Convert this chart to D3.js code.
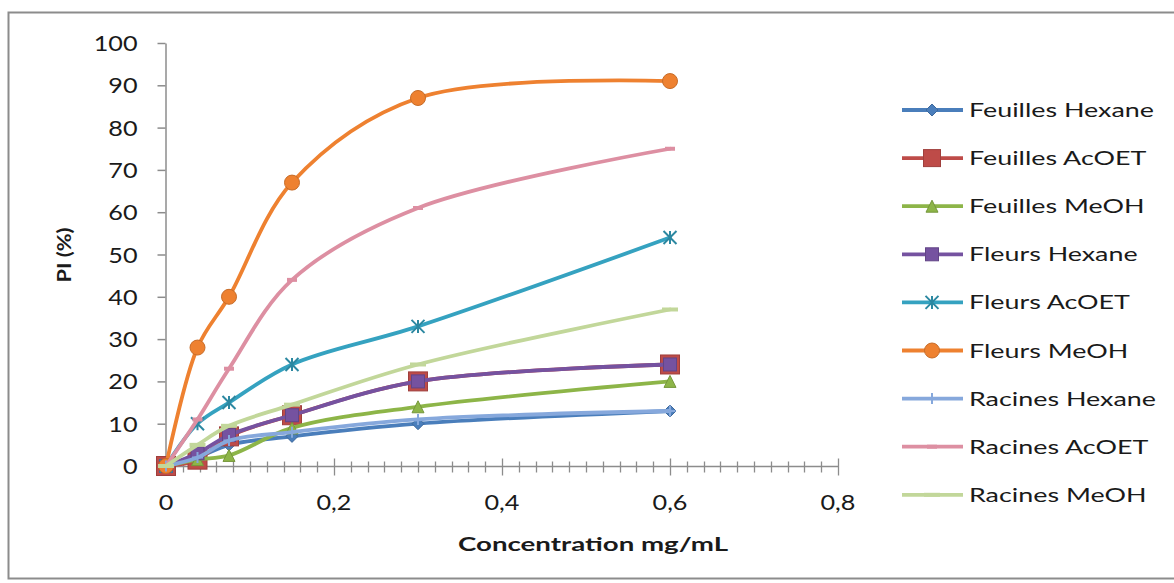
<!DOCTYPE html>
<html><head><meta charset="utf-8">
<script src="https://cdn.jsdelivr.net/npm/d3@7"></script>
<style>
html,body{margin:0;padding:0;background:#fff;}
svg{display:block;}
text{font-family:Lato,"Open Sans",sans-serif;fill:#1a1a1a;}
</style></head>
<body>
<svg id="chart" width="1174" height="583"></svg>
<script>
// ---- data ----
const concentrations = [0, 0.0375, 0.075, 0.15, 0.3, 0.6];
const seriesNames = ["Feuilles Hexane","Feuilles AcOET","Feuilles MeOH","Fleurs Hexane","Fleurs AcOET","Fleurs MeOH","Racines Hexane","Racines AcOET","Racines MeOH"];
const feuillesHexane = [0, 2, 5, 7, 10, 13];
const feuillesAcOET  = [0, 1.5, 7, 12, 20, 24];
const feuillesMeOH   = [0, 1.5, 2.5, 9, 14, 20];
const fleursHexane   = [0, 3, 7.3, 12, 20, 24];
const fleursAcOET    = [0, 10, 15, 24, 33, 54];
const fleursMeOH     = [0, 28, 40, 67, 87, 91];
const racinesHexane  = [0, 2, 6, 8, 11, 13];
const racinesAcOET   = [0, 11, 23, 44, 61, 75];
const racinesMeOH    = [0, 5, 9.5, 14.5, 24, 37];
const seriesValues = [feuillesHexane, feuillesAcOET, feuillesMeOH, fleursHexane, fleursAcOET, fleursMeOH, racinesHexane, racinesAcOET, racinesMeOH];
const xTicks = [0, 0.2, 0.4, 0.6, 0.8];
const yTicks = [0,10,20,30,40,50,60,70,80,90,100];
const xTitle = "Concentration mg/mL";
const yTitle = "PI (%)";

// ---- styles ----
const colors = ["#4a7ebb","#be4b48","#8db548","#7552a0","#35a2c0","#ee8130","#86a8dc","#dd8fa2","#c2d79a"];
const markers = ["diamond","square","triangle","square","asterisk","circle","plus","dash","longdash"];
const markerSize = {diamond:12, square:19, triangle:12, asterisk:13, circle:15, plus:11, dash:10, longdash:16};
const markerSizeOverride = {3:13};

const svg = d3.select("#chart");

// outer border
svg.append("rect").attr("x",8.5).attr("y",12.5).attr("width",1180).attr("height",566)
  .attr("fill","#fff").attr("stroke","#8c8c8c").attr("stroke-width",2);

const x = d3.scaleLinear().domain([0,0.8]).range([166,838]);
const y = d3.scaleLinear().domain([0,100]).range([466,43]);
const loc = d3.formatLocale({decimal:",",thousands:" ",grouping:[3],currency:["","€"]});
const fmt = v => v===0 ? "0" : loc.format("")(v);

function stretch(sel, sx){
  sel.each(function(){
    const t=d3.select(this);
    const xx=+t.attr("x")||0;
    t.attr("x", xx/sx).attr("transform", `scale(${sx},1)`);
  });
}

// y axis
const gy = svg.append("g").attr("transform","translate(165.5,0)")
  .call(d3.axisLeft(y).tickValues(yTicks).tickSize(8).tickPadding(20).tickSizeOuter(0));
gy.select(".domain").attr("stroke","#8c8c8c").attr("stroke-width",1.5);
gy.selectAll(".tick line").attr("stroke","#8c8c8c").attr("stroke-width",1.5);
gy.selectAll(".tick text").attr("font-size",21).attr("font-family","Lato").attr("fill","#1a1a1a").attr("dy","0.36em");
stretch(gy.selectAll(".tick text"), 1.2);

// x axis
const gx = svg.append("g").attr("transform","translate(0,466.5)");
gx.append("line").attr("x1",x(0)).attr("x2",x(0.8)).attr("stroke","#8c8c8c").attr("stroke-width",1.5);
const minor = d3.range(0, 0.8001, 0.02);
const isMajor = d => Math.abs(d/0.2-Math.round(d/0.2))<1e-6;
gx.selectAll("line.minor").data(minor).join("line").attr("class","minor")
  .attr("x1",d=>Math.round(x(d))+0.5).attr("x2",d=>Math.round(x(d))+0.5)
  .attr("y1",d=> isMajor(d)? -8 : -5)
  .attr("y2",d=> isMajor(d)? 9 : 6)
  .attr("stroke","#8c8c8c").attr("stroke-width",1.3);
gx.selectAll("text.xt").data(xTicks).join("text").attr("class","xt")
  .attr("x",d=>x(d)).attr("y",44).attr("text-anchor","middle")
  .attr("font-size",21).text(fmt);
stretch(gx.selectAll("text.xt"),1.2);

// titles
svg.append("text").attr("x",0).attr("y",0)
  .attr("transform","translate(71,255) rotate(-90)")
  .attr("text-anchor","middle").attr("font-weight","bold").attr("font-size",19)
  .attr("textLength",55).attr("lengthAdjust","spacingAndGlyphs").text(yTitle);
svg.append("text").attr("x",593).attr("y",551)
  .attr("text-anchor","middle").attr("font-weight","bold").attr("font-size",19)
  .attr("textLength",270).attr("lengthAdjust","spacingAndGlyphs").text(xTitle);

// marker drawing
function drawMarker(g, type, i, size){
  const c = colors[i];
  const dark = d3.color(c).darker(0.5).formatHex();
  const s = size;
  if(type==="diamond"){
    g.append("path").attr("d", `M0,${-s/2}L${s/2},0L0,${s/2}L${-s/2},0Z`).attr("fill",c).attr("stroke",dark).attr("stroke-width",1);
  } else if(type==="square"){
    g.append("rect").attr("x",-s/2).attr("y",-s/2).attr("width",s).attr("height",s).attr("fill",c).attr("stroke",dark).attr("stroke-width",1);
  } else if(type==="triangle"){
    g.append("path").attr("d", `M0,${-s/2}L${s/2},${s/2}L${-s/2},${s/2}Z`).attr("fill",c).attr("stroke",dark).attr("stroke-width",1);
  } else if(type==="circle"){
    g.append("circle").attr("r",s/2).attr("fill",c).attr("stroke",dark).attr("stroke-width",1);
  } else if(type==="asterisk"){
    const h=s/2;
    g.append("path").attr("d",`M${-h},${-h}L${h},${h}M${-h},${h}L${h},${-h}M0,${-h}L0,${h}`).attr("stroke",dark).attr("stroke-width",2).attr("fill","none");
  } else if(type==="plus"){
    const h=s/2;
    g.append("path").attr("d",`M${-h},0L${h},0M0,${-h}L0,${h}`).attr("stroke",c).attr("stroke-width",2).attr("fill","none");
  } else if(type==="dash" || type==="longdash"){
    const h=s/2;
    g.append("path").attr("d",`M${-h},0L${h},0`).attr("stroke",c).attr("stroke-width",4).attr("fill","none");
  }
}

// series (smoothed lines)
const line = d3.line().x(d=>x(d[0])).y(d=>y(d[1])).curve(d3.curveCatmullRom.alpha(0.5));
const plot = svg.append("g");
seriesValues.forEach((vals,i)=>{
  const pts = concentrations.map((c,k)=>[c, vals[k]]);
  const g = plot.append("g");
  g.append("path").attr("d", line(pts)).attr("fill","none").attr("stroke",colors[i])
    .attr("stroke-width",3.8).attr("stroke-linejoin","round").attr("stroke-linecap","round");
  const sz = markerSizeOverride[i] || markerSize[markers[i]];
  pts.forEach(p=>{
    const mg = g.append("g").attr("transform",`translate(${x(p[0])},${y(p[1])})`);
    drawMarker(mg, markers[i], i, sz);
  });
});

// legend
const legend = svg.append("g");
seriesNames.forEach((name,i)=>{
  const cy = 110 + i*48.1;
  const g = legend.append("g").attr("transform",`translate(0,${cy})`);
  g.append("line").attr("x1",902).attr("x2",963).attr("stroke",colors[i]).attr("stroke-width",3.8);
  const mg = g.append("g").attr("transform","translate(932,0)");
  const sz = markerSizeOverride[i] || markerSize[markers[i]];
  drawMarker(mg, markers[i], i, markers[i]==="square" && i===1 ? 17 : sz);
  g.append("text").attr("class","lg").attr("x",969).attr("y",7).attr("font-size",19.5).text(name);
});
// horizontal stretch matched to the reference text width
const ref = legend.select("text.lg").node().getComputedTextLength();
const sx = 185/ref;
stretch(legend.selectAll("text.lg"), sx);
</script>
</body></html>
